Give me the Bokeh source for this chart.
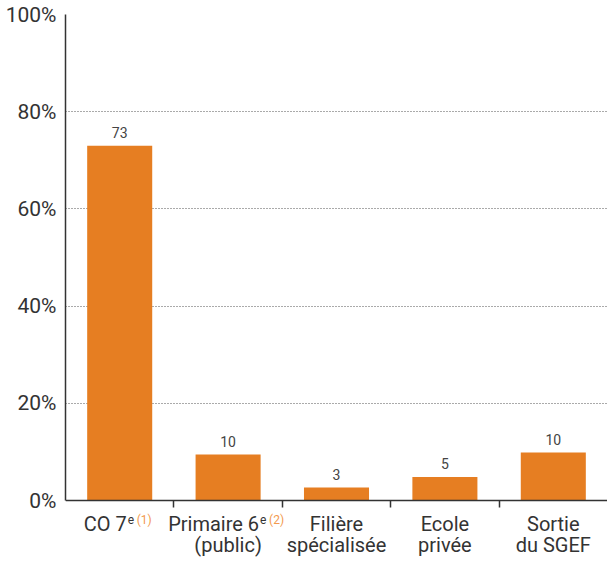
from bokeh.plotting import figure
from bokeh.models import (Range1d, FixedTicker, PrintfTickFormatter,
                          ColumnDataSource, LabelSet, Label)
from bokeh.core.properties import value
from bokeh.embed import file_html
from bokeh.resources import INLINE

# ---- data ----
categories = ["CO 7e", "Primaire 6e (public)", "Filière spécialisée", "Ecole privée", "Sortie du SGEF"]
values = [73, 9.5, 2.7, 4.9, 9.9]
value_labels = ["73", "10", "3", "5", "10"]
line1 = ["CO 7", "Primaire 6", "Filière", "Ecole", "Sortie"]
line2 = ["", "(public)", "spécialisée", "privée", "du SGEF"]
sup_e = ["e", "e", "", "", ""]
sup_note = ["(1)", "(2)", "", "", ""]
y_ticks = [0, 20, 40, 60, 80, 100]

FONT = "Roboto"
TXT = "#333333"
BAR = "#E67E22"
NOTE = "#F39A4E"

n = len(categories)
centres = [i + 0.5 for i in range(n)]  # slot centres on the category axis

p = figure(x_range=Range1d(0, n), y_range=Range1d(-12.5, 100),
           frame_width=542, frame_height=547, output_backend="svg", toolbar_location=None,
           min_border_left=65, min_border_right=0, min_border_top=14, min_border_bottom=0)
p.outline_line_color = None
p.xgrid.grid_line_color = None

src = ColumnDataSource(dict(x=centres, cat=categories, val=values, lab=value_labels))
p.vbar(x="x", top="val", width=0.6, color=BAR, line_color=None, source=src)

p.add_layout(LabelSet(x="x", y="val", text="lab", source=src, text_align="center",
                      text_baseline="bottom", y_offset=8, text_font=value(FONT),
                      text_font_size=value("14px"), text_color=value("#444444")))

# y axis (line limited to 0..100 %)
ya = p.yaxis[0]
ya.ticker = FixedTicker(ticks=y_ticks)
ya.formatter = PrintfTickFormatter(format="%d%%")
ya.bounds = (y_ticks[0], y_ticks[-1])
ya.major_tick_line_color = None
ya.major_tick_out = 0
ya.major_tick_in = 0
ya.minor_tick_line_color = None
ya.major_label_standoff = 9
ya.major_label_text_font = FONT
ya.major_label_text_font_size = "21px"
ya.major_label_text_color = TXT
ya.axis_line_color = "#333333"
ya.axis_line_width = 1.5

p.ygrid.ticker = FixedTicker(ticks=y_ticks[1:])
p.ygrid.grid_line_color = "#555555"
p.ygrid.grid_line_dash = "1 2"
p.ygrid.grid_line_width = 1

# bottom axis drawn at 0 %: ticks at category boundaries, labels drawn separately
bounds_ticks = list(range(1, n))
xa = p.xaxis[0]
xa.fixed_location = 0
xa.ticker = FixedTicker(ticks=bounds_ticks)
xa.major_label_overrides = {t: "" for t in bounds_ticks}
xa.major_label_standoff = 0
xa.major_tick_out = 7
xa.major_tick_in = 0
xa.minor_tick_line_color = None
xa.axis_line_color = "#333333"
xa.axis_line_width = 1.5
xa.major_tick_line_color = "#333333"
xa.major_tick_line_width = 1.5

# category labels
for i, c in enumerate(categories):
    xc = centres[i]
    if sup_e[i]:
        off = 7 if i == 0 else 31
        p.add_layout(Label(x=xc, y=0, text=line1[i], text_align="right",
                           text_baseline="middle", x_offset=off, y_offset=-23, text_font=FONT,
                           text_font_size="20px", text_color=TXT))
        p.add_layout(Label(x=xc, y=0, text=sup_e[i], text_align="left",
                           text_baseline="middle", x_offset=off + 1, y_offset=-19,
                           text_font=FONT, text_font_size="12px", text_color=TXT))
        p.add_layout(Label(x=xc, y=0, text=sup_note[i], text_align="left",
                           text_baseline="middle", x_offset=off + 10, y_offset=-19,
                           text_font=FONT, text_font_size="12px", text_color=NOTE))
    else:
        p.add_layout(Label(x=xc, y=0, text=line1[i], text_align="center",
                           text_baseline="middle", y_offset=-23, text_font=FONT,
                           text_font_size="20px", text_color=TXT))
    if line2[i]:
        p.add_layout(Label(x=xc, y=0, text=line2[i], text_align="center",
                           text_baseline="middle", y_offset=-44, text_font=FONT,
                           text_font_size="20px", text_color=TXT))

open("out.html", "w").write(file_html(p, INLINE))
